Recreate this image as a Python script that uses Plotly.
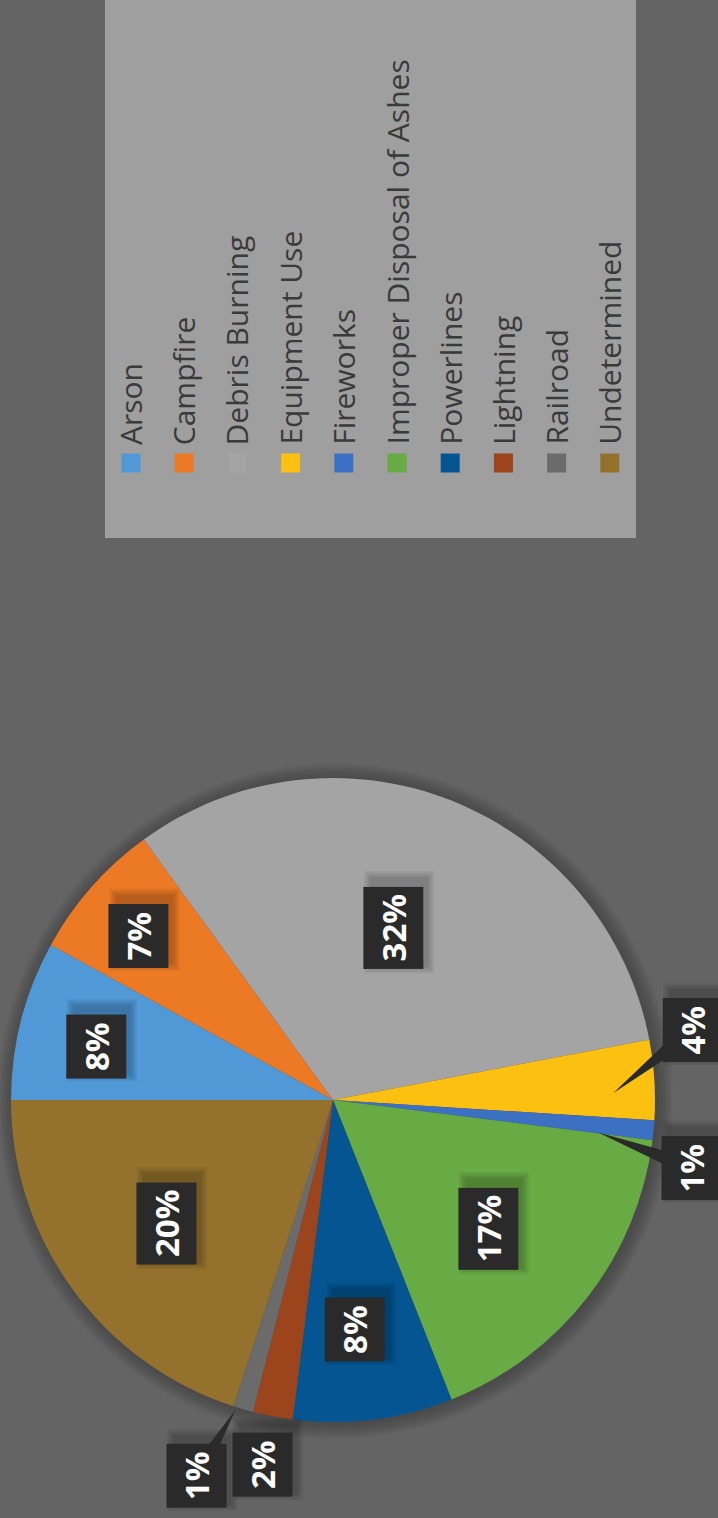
import math
import plotly.graph_objects as go

# ---------------- data ----------------
categories = ["Arson", "Campfire", "Debris Burning", "Equipment Use", "Fireworks",
              "Improper Disposal of Ashes", "Powerlines", "Lightning", "Railroad",
              "Undetermined"]
shares = [8, 7, 32, 4, 1, 17, 8, 2, 1, 20]
slice_colors = ["#5098d6", "#ec7a25", "#a4a4a4", "#fcc010", "#3c70c3",
                "#68aa44", "#045592", "#9c441b", "#6b6b6b", "#94722d"]

# label placement (radius as fraction of R, angle nudge in degrees) - style only
label_r = [0.755, 0.79, 0.565, 1.137, 1.134, 0.627, 0.717, 1.155, 1.243, 0.646]
label_nudge = [-1.6, -1.2, -2.3, -7.4, 5.3, 2.0, 1.7, 0.2, 3.8, -0.6]
pointer_r = [None, None, None, 0.87, 0.83, None, None, None, 1.01, None]
pointer_nudge = [0, 0, 0, 2.2, 1.6, 0, 0, 0, 1.3, 0]

# ---------------- layout constants ----------------
W, H = 718, 1518
CX, CY, R = 333, 1100, 322
BG = "#646464"


def px(x):
    return x / W


def py(y):
    return 1 - y / H


total = sum(shares)
fig = go.Figure()
fig.add_trace(go.Pie(
    labels=categories, values=shares, sort=False, direction="clockwise",
    rotation=270, marker=dict(colors=slice_colors, line=dict(width=0)),
    textinfo="none", hoverinfo="label+percent", showlegend=False,
    domain=dict(x=[px(CX - R), px(CX + R)], y=[py(CY + R), py(CY - R)]),
))

shapes = []
annotations = []

# soft shadow ring behind the pie
for k in range(1, 11):
    rr = R + k * 1.6
    shapes.append(dict(type="circle", xref="paper", yref="paper", layer="below",
                       x0=px(CX + 2 - rr), x1=px(CX + 2 + rr),
                       y0=py(CY + 1 + rr), y1=py(CY + 1 - rr),
                       fillcolor="rgba(0,0,0,0.025)", line=dict(width=0)))


def screen_pt(theta_deg, r):
    t = math.radians(theta_deg)
    return CX - r * math.cos(t), CY - r * math.sin(t)


cum = 0
for i, v in enumerate(shares):
    mid = (cum + v / 2) / total * 360
    cum += v
    lx, ly = screen_pt(mid + label_nudge[i], label_r[i] * R)
    txt = f"{round(v / total * 100)}%"
    half_h = 45 if len(txt) > 2 else 35
    half_w = 29
    # soft label shadow (offset to the right / up)
    for k in range(4):
        g = 2 + k * 2
        shapes.append(dict(type="rect", xref="paper", yref="paper", layer="above",
                           x0=px(lx - half_w + 4 - g + 4), x1=px(lx + half_w + 4 + g),
                           y0=py(ly + half_h - 4 + g - 4), y1=py(ly - half_h - 4 - g),
                           fillcolor="rgba(0,0,0,0.06)", line=dict(width=0)))
    if pointer_r[i] is not None:
        tx, ty = screen_pt(mid + pointer_nudge[i], pointer_r[i] * R)
        dx, dy = tx - lx, ty - ly
        d = math.hypot(dx, dy)
        nx, ny = -dy / d * 9, dx / d * 9
        path = (f"M {px(tx)},{py(ty)} L {px(lx + nx)},{py(ly + ny)} "
                f"L {px(lx - nx)},{py(ly - ny)} Z")
        shapes.append(dict(type="path", xref="paper", yref="paper", path=path,
                           fillcolor="#2a2a2a", line=dict(width=0), layer="above"))
    annotations.append(dict(
        x=px(lx), y=py(ly), xref="paper", yref="paper", text=f"<b>{txt}</b>",
        showarrow=False, textangle=-90, xanchor="center", yanchor="middle",
        font=dict(family="Open Sans", size=33, color="white"),
        bgcolor="#2a2a2a", borderpad=7,
    ))

# legend (rotated, drawn manually)
LEG_X0, LEG_X1, LEG_Y0, LEG_Y1 = 105, 636, 0, 538
shapes.append(dict(type="rect", xref="paper", yref="paper", layer="below",
                   x0=px(LEG_X0), x1=px(LEG_X1), y0=py(LEG_Y1), y1=py(LEG_Y0),
                   fillcolor="#9f9f9f", line=dict(width=0)))
first_x, step, sq_y, sq = 131, 53.2, 463, 19
for i, name in enumerate(categories):
    cx = first_x + step * i
    shapes.append(dict(type="rect", xref="paper", yref="paper",
                       x0=px(cx - sq / 2), x1=px(cx + sq / 2),
                       y0=py(sq_y + sq / 2), y1=py(sq_y - sq / 2),
                       fillcolor=slice_colors[i], line=dict(width=0)))
    annotations.append(dict(
        x=px(cx), y=py(446), xref="paper", yref="paper", text=name,
        showarrow=False, textangle=-90, xanchor="center", yanchor="bottom",
        font=dict(family="Open Sans", size=30, color="#3a3a3a"), borderpad=0,
    ))

fig.update_layout(
    width=W, height=H, margin=dict(l=0, r=0, t=0, b=0),
    paper_bgcolor=BG, plot_bgcolor=BG, shapes=shapes, annotations=annotations,
    showlegend=False,
)
fig.write_html("out.html", config={"displayModeBar": False},
               post_script="document.body.style.margin='0';"
                           "document.body.style.background='#646464';")
